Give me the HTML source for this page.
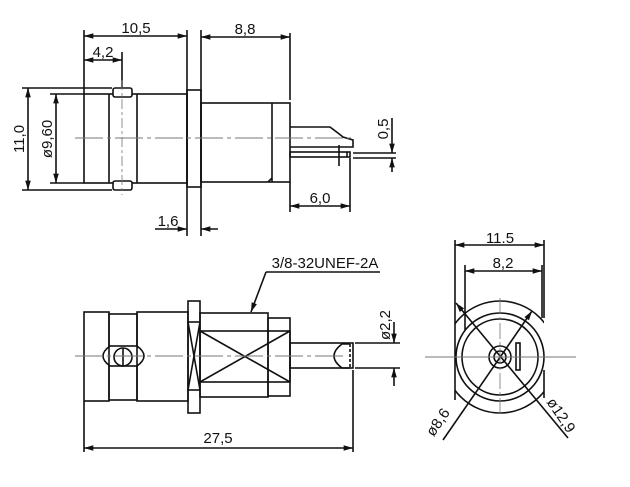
<!DOCTYPE html>
<html><head><meta charset="utf-8"><style>
html,body{margin:0;padding:0;background:#fff;}
svg{display:block}
text{font-family:"Liberation Sans",sans-serif;fill:#111;}
</style></head><body>
<svg width="630" height="487" viewBox="0 0 630 487" xmlns="http://www.w3.org/2000/svg">
<defs>
<marker id="a" viewBox="0 0 10 6" refX="10" refY="3" markerWidth="7" markerHeight="3.5" orient="auto-start-reverse"><path d="M0,0L10,3L0,6z" fill="#111"/></marker>
<clipPath id="c"><rect x="455" y="290" width="89" height="140"/></clipPath>
</defs>
<g stroke="#111" stroke-width="1.6" fill="none">
<!-- ===== TOP VIEW ===== -->
<line x1="84" y1="30" x2="84" y2="94"/>
<line x1="187" y1="30" x2="187" y2="236"/>
<line x1="201" y1="30" x2="201" y2="236"/>
<line x1="290" y1="33" x2="290" y2="100"/>
<line x1="122" y1="52" x2="122" y2="88"/>
<line x1="84" y1="36" x2="187" y2="36" marker-start="url(#a)" marker-end="url(#a)"/>
<line x1="201" y1="37" x2="290" y2="37" marker-start="url(#a)" marker-end="url(#a)"/>
<line x1="84" y1="60" x2="122" y2="60" marker-start="url(#a)" marker-end="url(#a)"/>
<line x1="22" y1="88" x2="112" y2="88"/>
<line x1="22" y1="190" x2="112" y2="190"/>
<line x1="28" y1="88" x2="28" y2="190" marker-start="url(#a)" marker-end="url(#a)"/>
<line x1="50" y1="94" x2="84" y2="94"/>
<line x1="50" y1="183" x2="84" y2="183"/>
<line x1="56" y1="94" x2="56" y2="183" marker-start="url(#a)" marker-end="url(#a)"/>
<rect x="84" y="94" width="103" height="89"/>
<line x1="109" y1="94" x2="109" y2="183"/>
<line x1="137" y1="94" x2="137" y2="183"/>
<rect x="113" y="88" width="19" height="9" rx="2" fill="#fff"/>
<rect x="113" y="181" width="19" height="9" rx="2" fill="#fff"/>
<rect x="187" y="90" width="14" height="97"/>
<rect x="201" y="103" width="89" height="79"/>
<line x1="272" y1="103" x2="272" y2="182"/>
<line x1="268" y1="182" x2="272" y2="178"/>
<path d="M290,127 L330,127 Q338,133 343,137 L353,140 L353,147 L290,147"/>
<rect x="290" y="152" width="60" height="5"/>
<line x1="347" y1="152" x2="347" y2="157"/>
<line x1="339" y1="145" x2="339" y2="166"/>
<line x1="353" y1="153" x2="396" y2="153"/>
<line x1="353" y1="158" x2="396" y2="158"/>
<line x1="350" y1="158" x2="350" y2="212"/>
<line x1="392" y1="118" x2="392" y2="153" marker-end="url(#a)"/>
<line x1="392" y1="172" x2="392" y2="158" marker-end="url(#a)"/>
<line x1="290" y1="182" x2="290" y2="212"/>
<line x1="290" y1="206" x2="350" y2="206" marker-start="url(#a)" marker-end="url(#a)"/>
<line x1="155" y1="229" x2="187" y2="229" marker-end="url(#a)"/>
<line x1="218" y1="229" x2="201" y2="229" marker-end="url(#a)"/>
</g>
<line x1="75" y1="138" x2="355" y2="138" stroke="#777" stroke-width="1" stroke-dasharray="28,4,4,4"/>
<line x1="122" y1="80" x2="122" y2="195" stroke="#777" stroke-width="0.8" stroke-dasharray="10,3,3,3"/>
<text x="136" y="33" font-size="15" text-anchor="middle">10,5</text>
<text x="245" y="34" font-size="15" text-anchor="middle">8,8</text>
<text x="103" y="57" font-size="15" text-anchor="middle">4,2</text>
<text x="320" y="203" font-size="15" text-anchor="middle">6,0</text>
<text x="168" y="226" font-size="15" text-anchor="middle">1,6</text>
<text transform="translate(24,139) rotate(-90)" font-size="15" text-anchor="middle">11,0</text>
<text transform="translate(52,139) rotate(-90)" font-size="15" text-anchor="middle">ø9,60</text>
<text transform="translate(388,129) rotate(-90)" font-size="15" text-anchor="middle">0,5</text>

<!-- ===== SIDE VIEW ===== -->
<g stroke="#111" stroke-width="1.6" fill="none">
<rect x="84" y="312" width="25" height="89"/>
<rect x="109" y="314" width="28" height="32"/>
<rect x="109" y="366" width="28" height="34"/>
<path d="M110,346 Q96,356 110,366"/>
<path d="M137,346 Q151,356 137,366"/>
<circle cx="123" cy="357" r="9"/>
<line x1="123" y1="348" x2="123" y2="366"/>
<rect x="137" y="312" width="51" height="89"/>
<rect x="188" y="301" width="12" height="112"/>
<line x1="188" y1="322" x2="200" y2="322"/>
<line x1="188" y1="390" x2="200" y2="390"/>
<line x1="188" y1="322" x2="200" y2="390"/>
<line x1="200" y1="322" x2="188" y2="390"/>
<rect x="200" y="313" width="68" height="84"/>
<rect x="268" y="318" width="22" height="78"/>
<rect x="200" y="331" width="90" height="51"/>
<line x1="200" y1="331" x2="290" y2="382"/>
<line x1="290" y1="331" x2="200" y2="382"/>
<rect x="290" y="343" width="63" height="25"/>
<path d="M350,344 L342,344 Q326,356 342,368 L350,368"/>
<line x1="350" y1="344" x2="350" y2="368" stroke-dasharray="3,2"/>
<line x1="266" y1="272" x2="380" y2="272"/>
<line x1="266" y1="272" x2="251" y2="312" marker-end="url(#a)"/>
<line x1="355" y1="343" x2="400" y2="343"/>
<line x1="355" y1="368" x2="400" y2="368"/>
<line x1="394" y1="322" x2="394" y2="343" marker-end="url(#a)"/>
<line x1="394" y1="386" x2="394" y2="368" marker-end="url(#a)"/>
<line x1="84" y1="401" x2="84" y2="452"/>
<line x1="353" y1="370" x2="353" y2="452"/>
<line x1="84" y1="448" x2="353" y2="448" marker-start="url(#a)" marker-end="url(#a)"/>
</g>
<line x1="75" y1="356" x2="345" y2="356" stroke="#777" stroke-width="1" stroke-dasharray="28,4,4,4"/>
<text x="325" y="268" font-size="15" text-anchor="middle">3/8-32UNEF-2A</text>
<text transform="translate(390,325) rotate(-90)" font-size="15" text-anchor="middle">ø2,2</text>
<text x="218" y="443" font-size="15" text-anchor="middle">27,5</text>

<!-- ===== FRONT VIEW ===== -->
<g stroke="#111" stroke-width="1.6" fill="none">
<line x1="455" y1="240" x2="455" y2="400"/>
<line x1="544" y1="240" x2="544" y2="318"/>
<line x1="544" y1="370" x2="544" y2="398"/>
<line x1="465" y1="265" x2="465" y2="330"/>
<line x1="542" y1="265" x2="542" y2="318"/>
<line x1="455" y1="245" x2="544" y2="245" marker-start="url(#a)" marker-end="url(#a)"/>
<line x1="465" y1="271" x2="542" y2="271" marker-start="url(#a)" marker-end="url(#a)"/>
<g clip-path="url(#c)">
<circle cx="500" cy="357" r="56"/>
</g>
<circle cx="500" cy="357" r="44"/>
<circle cx="500" cy="357" r="38"/>
<circle cx="500" cy="357" r="11"/>
<circle cx="500" cy="357" r="6"/>
<rect x="516" y="343" width="4" height="27"/>
<line x1="456" y1="303" x2="568" y2="438" marker-start="url(#a)"/>
<line x1="532" y1="311" x2="443" y2="440" marker-start="url(#a)"/>
</g>
<line x1="425" y1="357" x2="576" y2="357" stroke="#777" stroke-width="1"/>
<line x1="500" y1="298" x2="500" y2="415" stroke="#777" stroke-width="0.8" stroke-dasharray="16,3,3,3"/>
<text x="500" y="243" font-size="15" text-anchor="middle">11.5</text>
<text x="503" y="268" font-size="15" text-anchor="middle">8,2</text>
<text transform="translate(442,425) rotate(-56)" font-size="15" text-anchor="middle">ø8,6</text>
<text transform="translate(557,418) rotate(56)" font-size="15" text-anchor="middle">ø12,9</text>
</svg>
</body></html>
